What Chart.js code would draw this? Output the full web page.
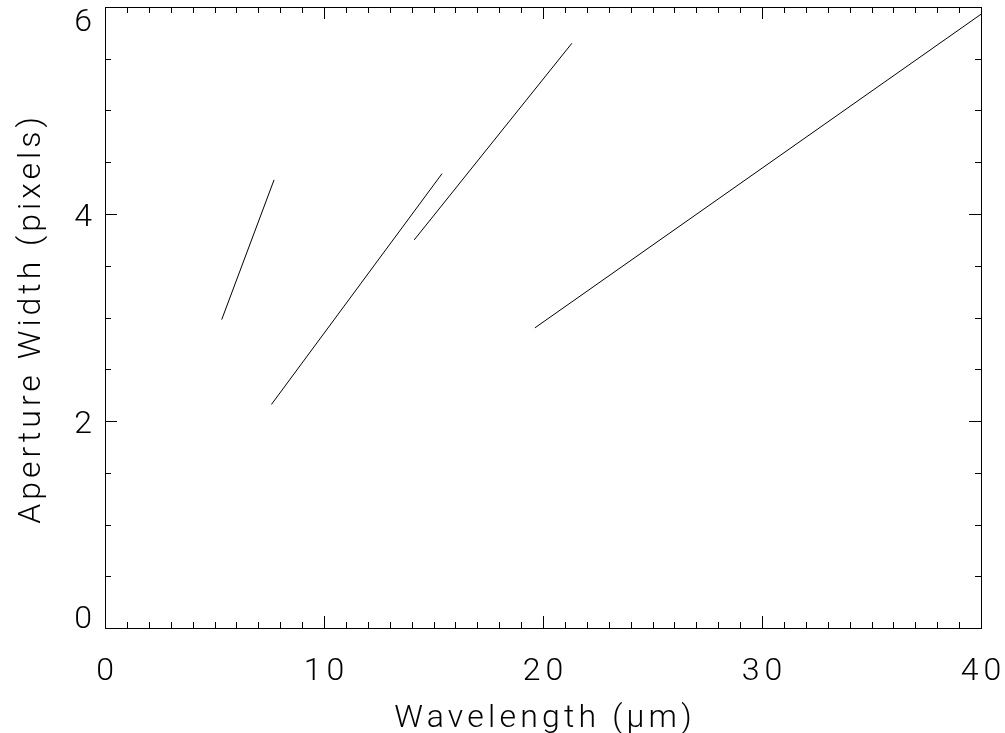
<!DOCTYPE html>
<html>
<head>
<meta charset="utf-8">
<script src="https://cdn.jsdelivr.net/npm/chart.js@4/dist/chart.umd.min.js"></script>
<style>
  html, body { margin: 0; padding: 0; background: #fff; }
  #wrap { width: 1005px; height: 733px; }
</style>
</head>
<body>
<div id="wrap"><canvas id="c"></canvas></div>
<script>
// segment end points (wavelength in micron, width in pixels)
const segA = [{x: 5.33, y: 2.98}, {x: 7.72, y: 4.33}];
const segB = [{x: 7.60, y: 2.16}, {x: 15.39, y: 4.39}];
const segC = [{x: 14.12, y: 3.75}, {x: 21.32, y: 5.65}];
const segD = [{x: 19.63, y: 2.90}, {x: 40.0, y: 5.93}];

const xTicks = [0, 10, 20, 30, 40];
const yTicks = [0, 2, 4, 6];
const xTitle = 'Wavelength (\u03bcm)';
const yTitle = 'Aperture Width (pixels)';

const FONT = "'Roboto', 'DejaVu Sans', sans-serif";
const TICK_FONT = "300 32px " + FONT;
const TITLE_FONT = "300 32px " + FONT;

// text with extra letter spacing; align is 'left' | 'center' | 'right'
function spacedText(ctx, text, x, y, align, spacing) {
  ctx.letterSpacing = spacing + 'px';
  ctx.textAlign = 'left';
  const w = ctx.measureText(text).width - spacing;
  let x0 = x;
  if (align === 'center') x0 = x - w / 2;
  if (align === 'right') x0 = x - w;
  ctx.fillText(text, x0, y);
}

// ticks pointing inwards on all four sides, tick labels and both titles
const plotDecor = {
  id: 'plotDecor',
  afterDraw(chart) {
    const ctx = chart.ctx;
    const a = chart.chartArea;
    const xs = chart.scales.x;
    const ys = chart.scales.y;
    ctx.save();
    ctx.strokeStyle = '#000';
    ctx.lineWidth = 1;
    ctx.beginPath();
    // x: minor every 1, major every 10
    for (let v = xs.min; v <= xs.max + 1e-9; v += 1) {
      const px = Math.round(xs.getPixelForValue(v)) + 0.5;
      const len = (v % 10 === 0) ? 12 : 6;
      ctx.moveTo(px, a.bottom); ctx.lineTo(px, a.bottom - len);
      ctx.moveTo(px, a.top); ctx.lineTo(px, a.top + len);
    }
    // y: minor every 0.5, major every 2
    for (let v = ys.min; v <= ys.max + 1e-9; v += 0.5) {
      const py = Math.round(ys.getPixelForValue(v)) + 0.5;
      const len = (v % 2 === 0) ? 12 : 6;
      ctx.moveTo(a.left, py); ctx.lineTo(a.left + len, py);
      ctx.moveTo(a.right, py); ctx.lineTo(a.right - len, py);
    }
    ctx.stroke();
    ctx.strokeRect(a.left + 0.5, a.top + 0.5, a.right - a.left, a.bottom - a.top);

    ctx.fillStyle = '#000';
    ctx.font = TICK_FONT;
    ctx.textBaseline = 'alphabetic';
    // x labels
    xTicks.forEach(v => {
      spacedText(ctx, String(v), xs.getPixelForValue(v), 680, 'center', 5);
    });
    // y labels, kept inside the frame at the ends (0 sits on the axis, 6 hangs from the top)
    yTicks.forEach(v => {
      const py = ys.getPixelForValue(v);
      let y = py + 11.5;
      if (v === ys.min) y = py;
      if (v === ys.max) y = py + 24;
      spacedText(ctx, String(v), a.left - 13, y, 'right', 5);
    });

    // axis titles
    ctx.font = TITLE_FONT;
    spacedText(ctx, xTitle, (a.left + a.right) / 2, 727, 'center', 4.2);
    ctx.translate(40, (a.top + a.bottom) / 2 + 3);
    ctx.rotate(-Math.PI / 2);
    spacedText(ctx, yTitle, 0, 0, 'center', 4);
    ctx.restore();
  }
};

function seg(data) {
  return {
    data: data,
    borderColor: '#000',
    borderWidth: 1,
    pointRadius: 0,
    fill: false,
    tension: 0
  };
}

new Chart(document.getElementById('c'), {
  type: 'line',
  data: {
    datasets: [seg(segA), seg(segB), seg(segC), seg(segD)]
  },
  options: {
    responsive: true,
    maintainAspectRatio: false,
    animation: false,
    layout: { padding: { top: 7, right: 24, left: 0, bottom: 0 } },
    plugins: { legend: { display: false }, tooltip: { enabled: false } },
    scales: {
      x: {
        type: 'linear',
        min: 0, max: 40,
        afterFit(s) { s.height = 105; s.paddingLeft = 0; s.paddingRight = 0; },
        afterBuildTicks(s) { s.ticks = xTicks.map(v => ({value: v})); },
        grid: { display: false, drawTicks: false },
        border: { display: false },
        ticks: { display: false }
      },
      y: {
        type: 'linear',
        min: 0, max: 6,
        afterFit(s) { s.width = 105; s.paddingTop = 0; s.paddingBottom = 0; },
        afterBuildTicks(s) { s.ticks = yTicks.map(v => ({value: v})); },
        grid: { display: false, drawTicks: false },
        border: { display: false },
        ticks: { display: false }
      }
    }
  },
  plugins: [plotDecor]
});
</script>
</body>
</html>
